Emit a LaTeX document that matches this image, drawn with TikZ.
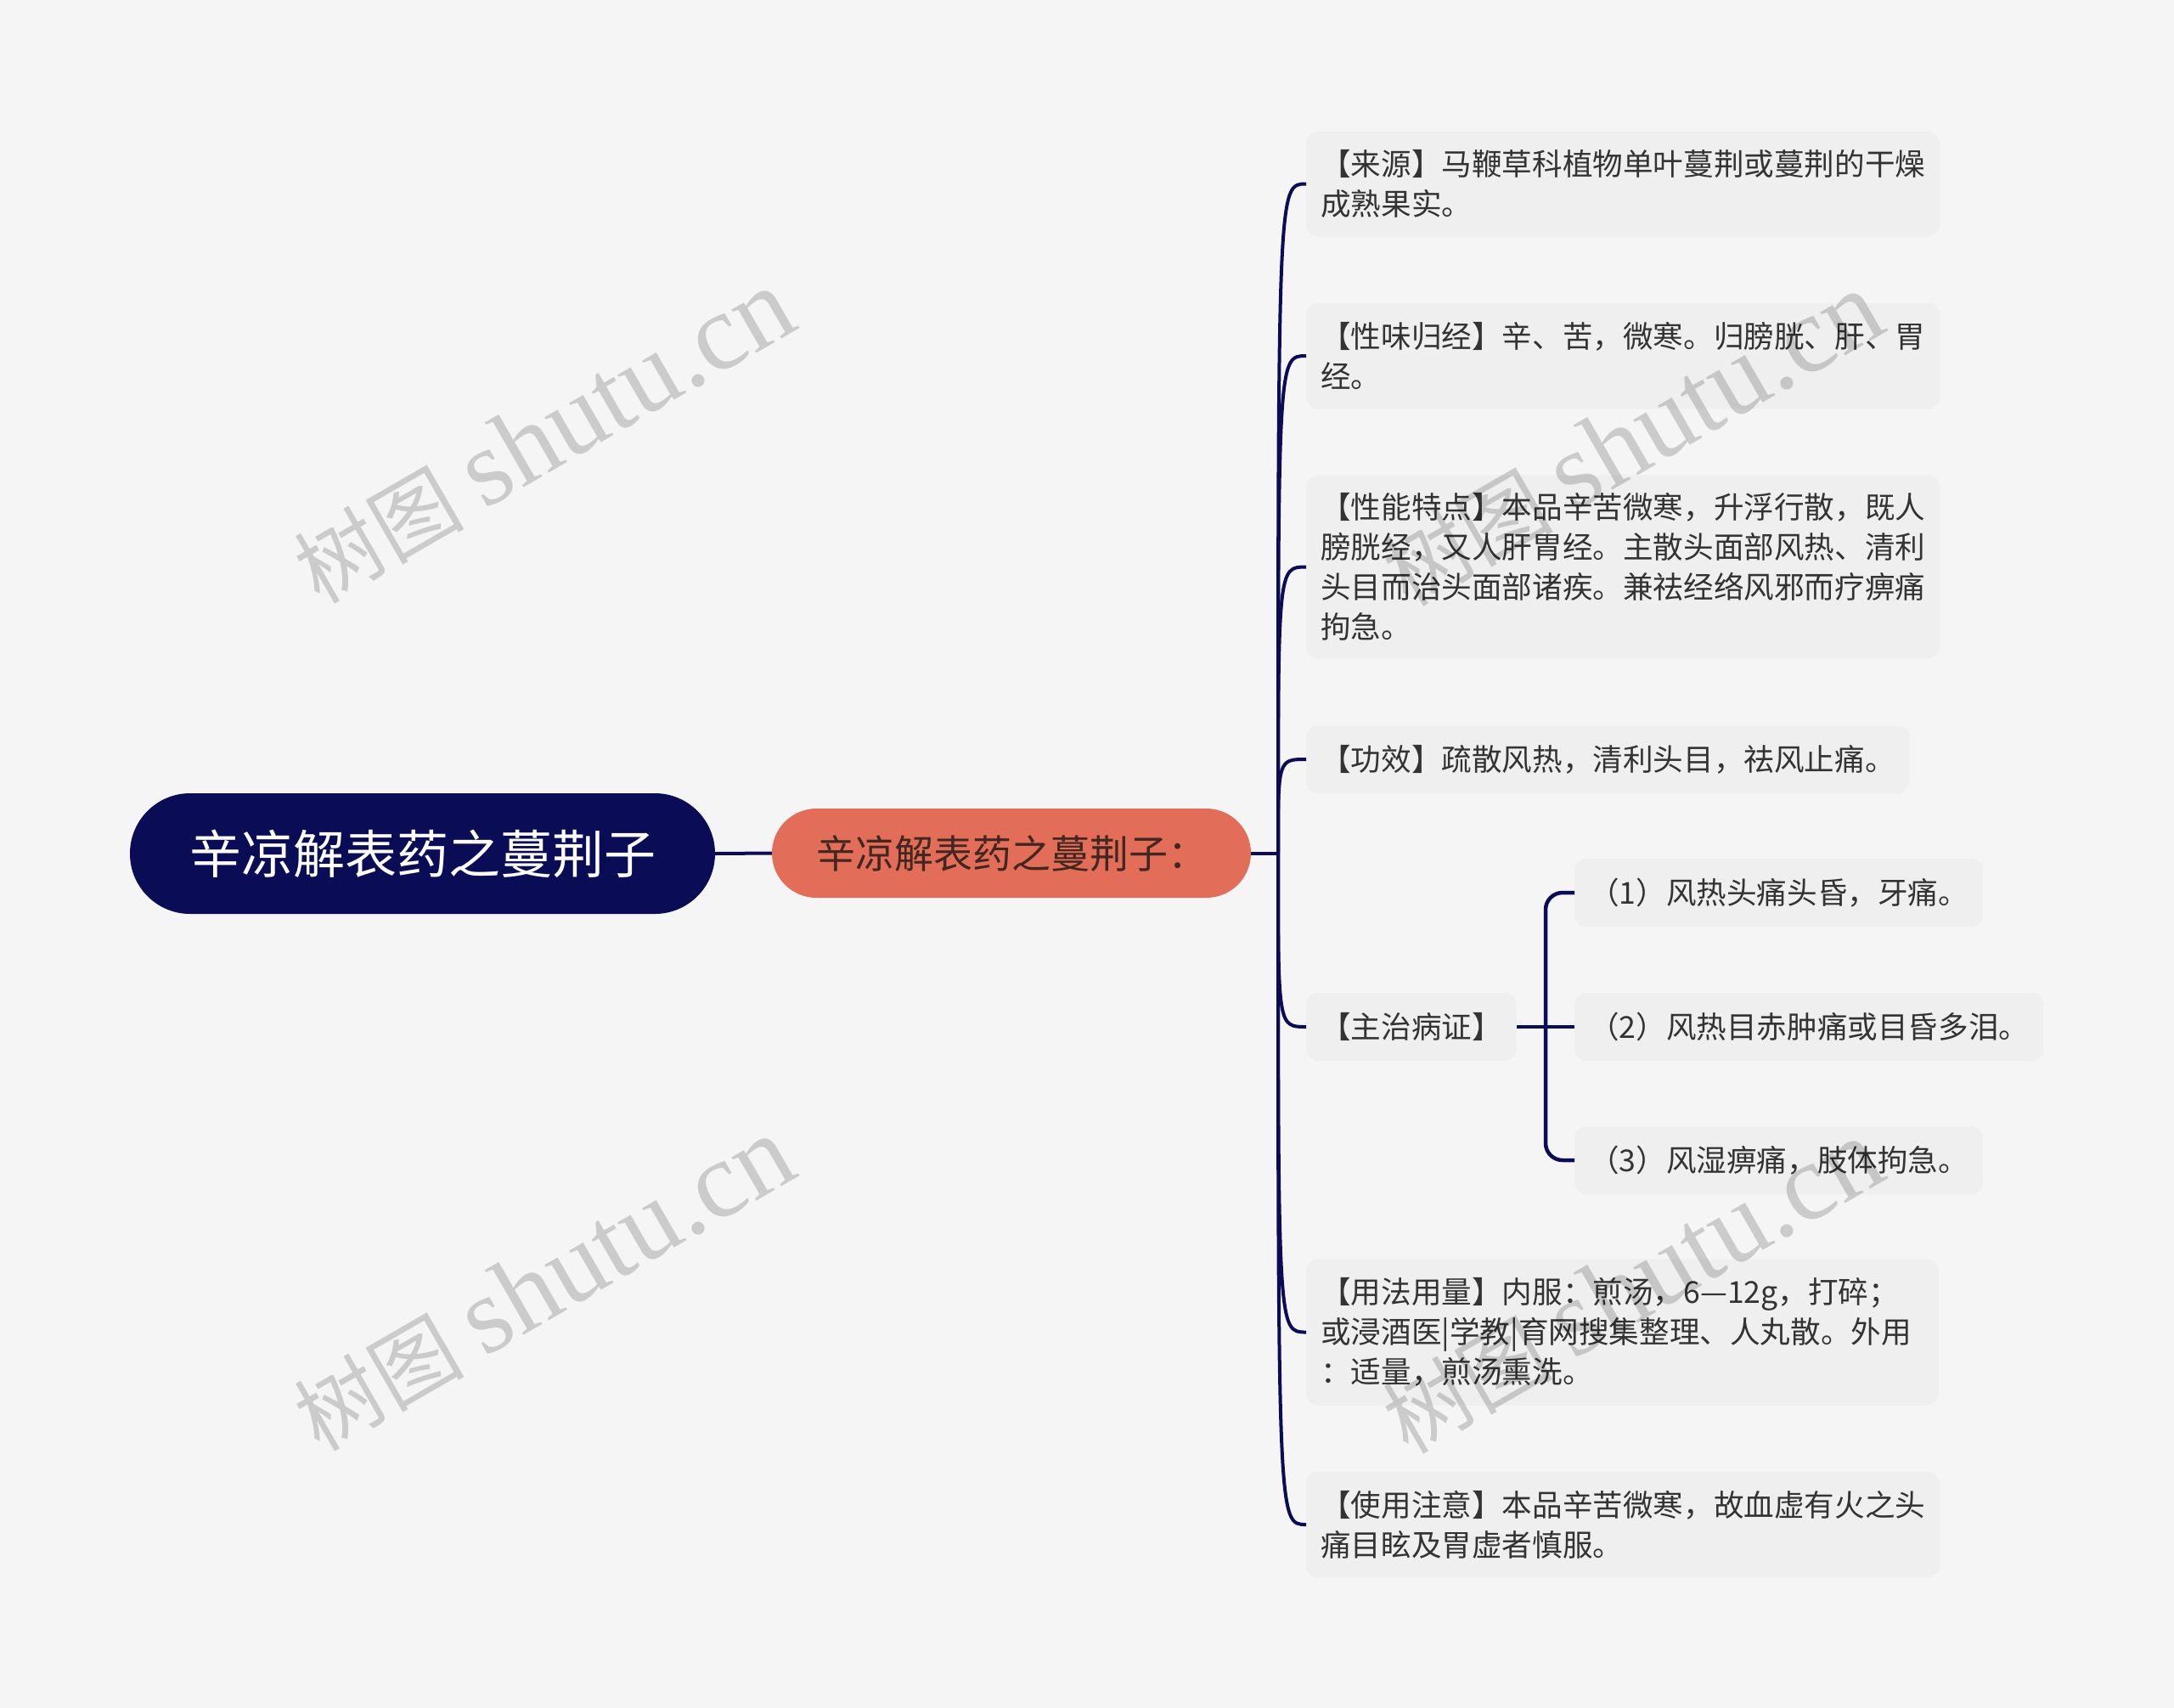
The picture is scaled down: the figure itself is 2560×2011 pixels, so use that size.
\documentclass[tikz,border=0pt]{standalone}
\usepackage{fontspec}
\newfontfamily\cjk{Noto Sans CJK SC}
\newfontfamily\wmlatin{Liberation Serif}
\usetikzlibrary{calc}
\definecolor{bgc}{RGB}{245,245,245}
\definecolor{boxc}{RGB}{239,239,239}
\definecolor{navy}{RGB}{10,13,85}
\definecolor{salmon}{RGB}{226,109,88}
\definecolor{txt}{RGB}{51,51,51}
\definecolor{childtxt}{RGB}{66,38,32}
\begin{document}
\begin{tikzpicture}[x=1pt,y=-1pt,
  leaf/.style={fill=boxc, rounded corners=14, anchor=west, inner xsep=17, inner ysep=0,
    align=left, text=txt, font=\cjk\fontsize{35.6}{47}\selectfont},
  rootnode/.style={fill=navy, rounded corners=70.9, minimum width=689, minimum height=142,
    inner sep=0, text=white, font=\cjk\fontsize{61}{70}\selectfont},
  mainnode/.style={fill=salmon, rounded corners=52.4, minimum width=564, minimum height=105,
    inner sep=0, text=childtxt, font=\cjk\fontsize{46}{54}\selectfont},
  conn/.style={draw=navy, line width=4},
  wmark/.style={text=black, text opacity=0.17, rotate=30, inner sep=0}]
\fill[bgc] (0,0) rectangle (2560,2011);
\useasboundingbox (0,0) rectangle (2560,2011);

\node[rootnode] (root) at (497.5,1005) {辛凉解表药之蔓荆子};
\node[mainnode] (main) at (1191,1004.5) {辛凉解表药之蔓荆子：};

\node[leaf, minimum height=123] (b1) at (1538,216.5) {【来源】马鞭草科植物单叶蔓荆或蔓荆的干燥\\成熟果实。};
\node[leaf, minimum height=125] (b2) at (1538,419) {【性味归经】辛、苦，微寒。归膀胱、肝、胃\\经。};
\node[leaf, minimum height=216] (b3) at (1538,667.5) {【性能特点】本品辛苦微寒，升浮行散，既人\\膀胱经，又人肝胃经。主散头面部风热、清利\\头目而治头面部诸疾。兼祛经络风邪而疗痹痛\\拘急。};
\node[leaf, minimum height=80] (b4) at (1538,894) {【功效】疏散风热，清利头目，祛风止痛。};
\node[leaf, minimum height=80] (b5) at (1538,1209) {【主治病证】};
\node[leaf, minimum height=80] (s1) at (1854,1051) {（1）风热头痛头昏，牙痛。};
\node[leaf, minimum height=80] (s2) at (1854,1209) {（2）风热目赤肿痛或目昏多泪。};
\node[leaf, minimum height=80] (s3) at (1854,1366) {（3）风湿痹痛，肢体拘急。};
\node[leaf, minimum height=172, text width=711] (b6) at (1538,1568.5) {【用法用量】内服：煎汤，6—12g，打碎；\\或浸酒医|学教|育网搜集整理、人丸散。外用\\：适量，煎汤熏洗。};
\node[leaf, minimum height=125] (b7) at (1538,1795) {【使用注意】本品辛苦微寒，故血虚有火之头\\痛目眩及胃虚者慎服。};

\coordinate (trunk) at (1505,1004.5);
\coordinate (bar) at (1820,1209);

\draw[conn] (root.east) -- (main.west);
\draw[conn] (main.east) -- (trunk);
\foreach \b in {b1,b2,b3,b4,b5,b6,b7}
  \draw[conn] (trunk) .. controls (trunk |- \b.west) .. (\b.west);
\draw[conn, line width=4.5] (b5.east) -- (s2.west);
\draw[conn, line width=4.5, rounded corners=20] (s1.west) -| (bar) |- (s3.west);

\newcommand\wmtext{{\cjk\fontsize{100}{110}\selectfont 树图}\hspace{24pt}{\wmlatin\fontsize{128}{138}\selectfont shutu.cn}}
\node[wmark] (w1) at (640,514) {\wmtext};
\node[wmark] (w2) at (640,1512) {\wmtext};
\node[wmark] (w3) at (1922,517) {\wmtext};
\node[wmark] (w4) at (1922,1515) {\wmtext};
\end{tikzpicture}
\end{document}
